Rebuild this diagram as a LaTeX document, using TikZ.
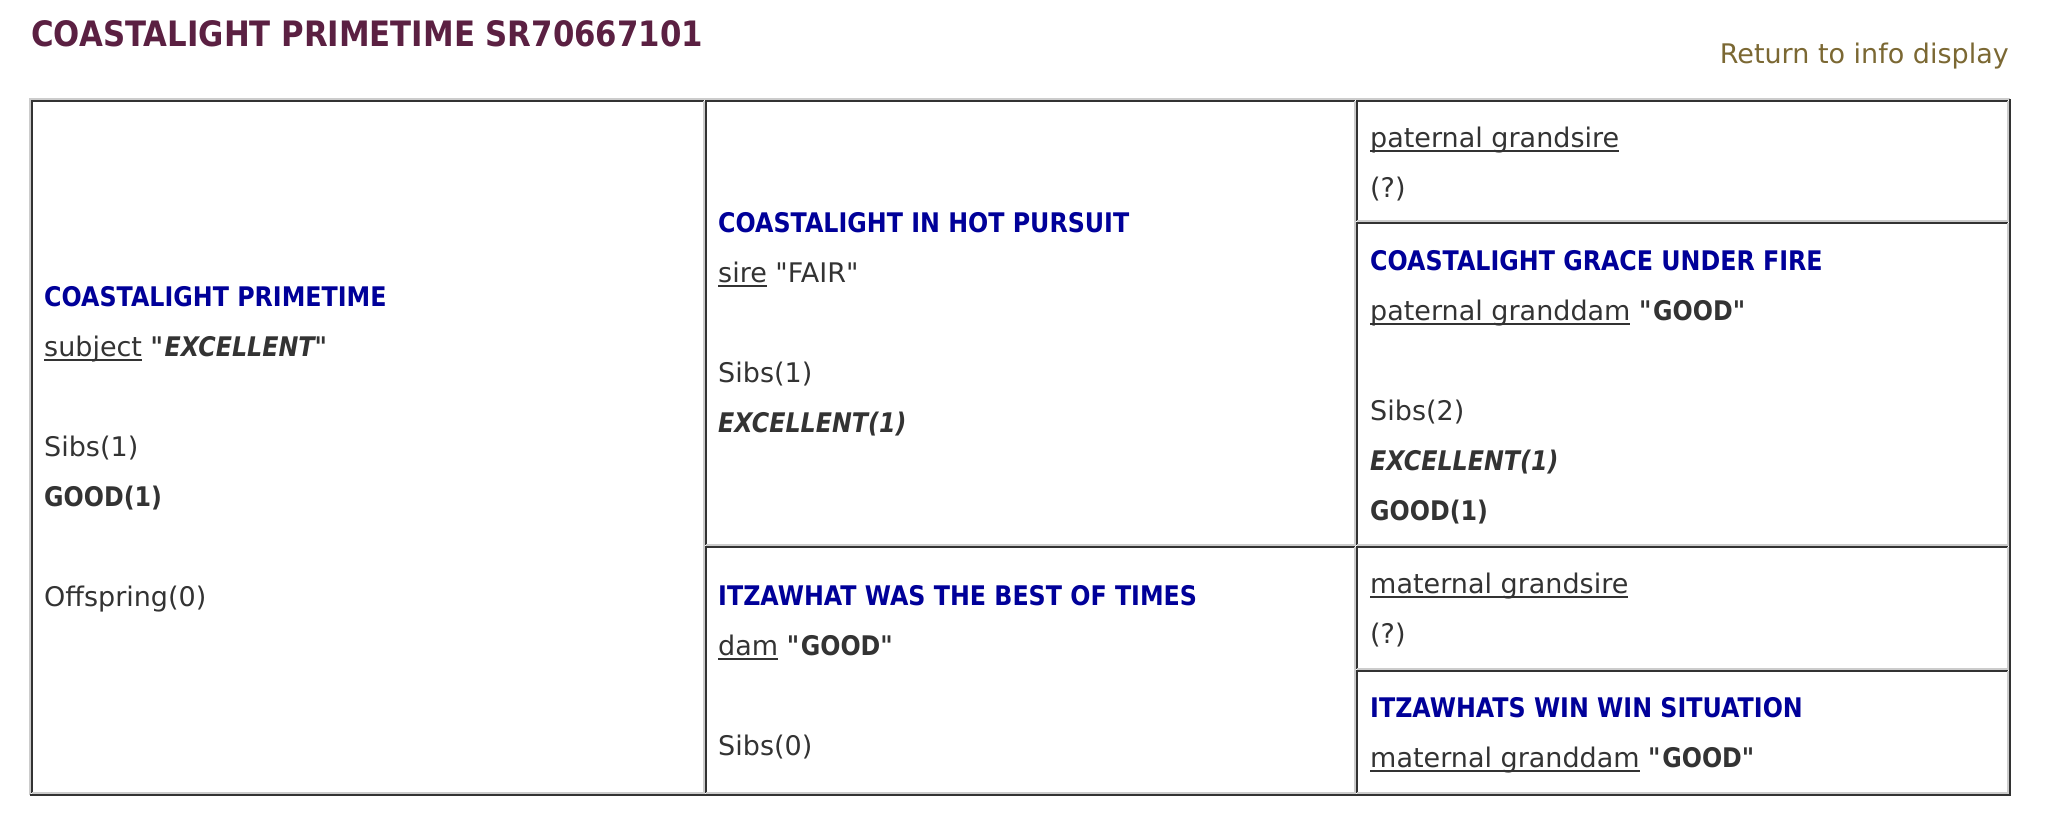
\documentclass[tikz,border=0pt]{standalone}
\usepackage{fontspec}
\setmainfont{DejaVu Sans}[
    BoldFeatures={FakeStretch=0.88},
    BoldItalicFeatures={FakeStretch=0.88}
]
\usepackage{tikz}
\newcommand\linkul[1]{\setbox0\hbox{#1}\rlap{\rule[-4.5pt]{\wd0}{1.5pt}}\box0\relax}
\newcommand\qt{\textquotedbl}
\definecolor{titlered}{HTML}{5B2042}
\definecolor{linkbrown}{HTML}{7B6833}
\definecolor{horseblue}{HTML}{000099}
\definecolor{bodygray}{HTML}{333333}
\definecolor{rimgray}{HTML}{CCCCCC}
\tikzset{
    Text/.style = {anchor=base west, inner sep=0pt, text=bodygray, font=\fontsize{27}{32}\selectfont}
}
\tikzset{
    Name/.style = {Text, text=horseblue, font=\fontsize{27}{32}\selectfont\bfseries}
}
\tikzset{
    Dark/.style = {draw=bodygray, line width=2pt},
    Light/.style = {draw=rimgray, line width=2pt}
}

\begin{document}
\begin{tikzpicture}[x=1pt, y=-1pt]
\useasboundingbox (0,0) rectangle (2058,822);

% heading
\node[Text, text=titlered, font=\fontsize{35}{40}\selectfont\bfseries] at (31,46) (title) {COASTALIGHT PRIMETIME SR70667101};
\node[Text, anchor=base east, text=linkbrown] at (2009,63) (back) {Return to info display};

% table frame
\draw[Light] (30,795) |- (2010,99);
\draw[Dark] (30,795) -| (2010,99);

% cells
\draw[Dark] (32,793) |- (704,101);
\draw[Light] (32,793) -| (704,101);
\draw[Dark] (706,545) |- (1355,101);
\draw[Light] (706,545) -| (1355,101);
\draw[Dark] (706,793) |- (1355,547);
\draw[Light] (706,793) -| (1355,547);
\draw[Dark] (1357,221) |- (2008,101);
\draw[Light] (1357,221) -| (2008,101);
\draw[Dark] (1357,545) |- (2008,223);
\draw[Light] (1357,545) -| (2008,223);
\draw[Dark] (1357,669) |- (2008,547);
\draw[Light] (1357,669) -| (2008,547);
\draw[Dark] (1357,793) |- (2008,671);
\draw[Light] (1357,793) -| (2008,671);

% subject
\node[Name] at (44,306) (subj) {COASTALIGHT PRIMETIME};
\node[Text] at (44,356) (subjgrade) {\linkul{subject} \textbf{\textit{\qt EXCELLENT\qt}}};
\node[Text] at (44,456) (subjsibs) {Sibs(1)};
\node[Text] at (44,506) (subjgood) {\textbf{GOOD(1)}};
\node[Text] at (44,606) (subjkids) {Offspring(0)};

% sire
\node[Name] at (718,232) (sire) {COASTALIGHT IN HOT PURSUIT};
\node[Text] at (718,282) (siregrade) {\linkul{sire} \qt FAIR\qt};
\node[Text] at (718,382) (siresibs) {Sibs(1)};
\node[Text] at (718,432) (sireexc) {\textbf{\textit{EXCELLENT(1)}}};

% dam
\node[Name] at (718,605) (dam) {ITZAWHAT WAS THE BEST OF TIMES};
\node[Text] at (718,655) (damgrade) {\linkul{dam} \textbf{\qt GOOD\qt}};
\node[Text] at (718,755) (damsibs) {Sibs(0)};

% grandparents
\node[Text] at (1370,147) (psire) {\linkul{paternal grandsire}};
\node[Text] at (1370,197) (psireq) {(?)};
\node[Name] at (1370,270) (pdam) {COASTALIGHT GRACE UNDER FIRE};
\node[Text] at (1370,320) (pdamgrade) {\linkul{paternal granddam} \textbf{\qt GOOD\qt}};
\node[Text] at (1370,420) (pdamsibs) {Sibs(2)};
\node[Text] at (1370,470) (pdamexc) {\textbf{\textit{EXCELLENT(1)}}};
\node[Text] at (1370,520) (pdamgood) {\textbf{GOOD(1)}};
\node[Text] at (1370,593) (msire) {\linkul{maternal grandsire}};
\node[Text] at (1370,643) (msireq) {(?)};
\node[Name] at (1370,717) (mdam) {ITZAWHATS WIN WIN SITUATION};
\node[Text] at (1370,767) (mdamgrade) {\linkul{maternal granddam} \textbf{\qt GOOD\qt}};
\end{tikzpicture}
\end{document}
